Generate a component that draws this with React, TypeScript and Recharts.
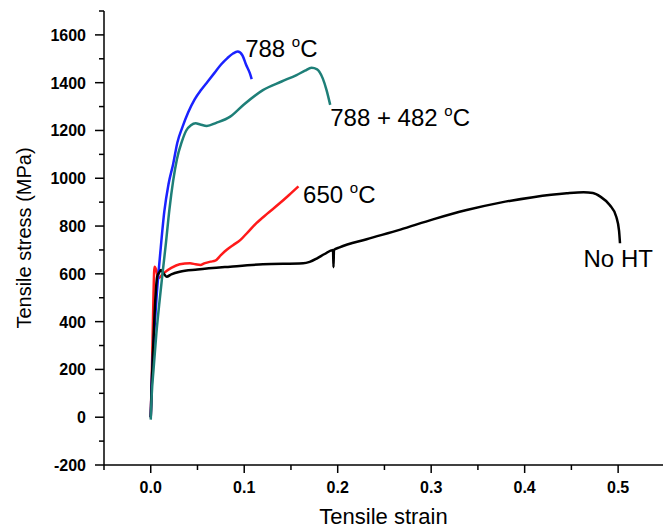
import React from 'react';
import { LineChart, Line, XAxis, YAxis, ReferenceDot, Label } from 'recharts';

// 788 °C (blue)
const strain788 = [0, 0.001, 0.003, 0.006, 0.0105, 0.0145, 0.019, 0.024, 0.0285, 0.034, 0.04, 0.047, 0.054, 0.061, 0.068, 0.075, 0.082, 0.088, 0.093, 0.098, 0.102, 0.106, 0.108];
const stress788 = [0, 140, 300, 490, 700, 860, 975, 1060, 1150, 1215, 1275, 1330, 1370, 1405, 1440, 1475, 1503, 1522, 1530, 1515, 1475, 1440, 1415];

// 788 + 482 °C (teal)
const strain788482 = [0, 0.001, 0.003, 0.006, 0.009, 0.012, 0.016, 0.02, 0.024, 0.028, 0.033, 0.038, 0.043, 0.048, 0.053, 0.06, 0.07, 0.085, 0.1, 0.12, 0.14, 0.156, 0.165, 0.172, 0.178, 0.184, 0.188, 0.192];
const stress788482 = [-10, 90, 200, 350, 470, 580, 720, 870, 990, 1080, 1150, 1200, 1222, 1230, 1225, 1219, 1232, 1258, 1310, 1369, 1405, 1432, 1450, 1462, 1456, 1418, 1370, 1307];

// 650 °C (red)
const strain650 = [0, 0.001, 0.002, 0.003, 0.004, 0.006, 0.008, 0.0135, 0.022, 0.031, 0.042, 0.048, 0.053, 0.058, 0.064, 0.069, 0.075, 0.081, 0.088, 0.096, 0.104, 0.113, 0.125, 0.137, 0.148, 0.158];
const stress650 = [0, 150, 330, 520, 630, 615, 582, 602, 625, 640, 644, 640, 637, 645, 651, 655, 678, 700, 720, 742, 775, 812, 853, 892, 930, 966];

// No HT (black)
const strainNoHT = [0, 0.001, 0.003, 0.005, 0.007, 0.009, 0.011, 0.014, 0.017, 0.022, 0.031, 0.05, 0.085, 0.12, 0.163, 0.17, 0.178, 0.186, 0.195, 0.1955, 0.196, 0.202, 0.231, 0.267, 0.302, 0.338, 0.374, 0.409, 0.445, 0.463, 0.473, 0.481, 0.491, 0.498, 0.501, 0.502];
const stressNoHT = [0, 130, 330, 500, 590, 605, 616, 600, 588, 598, 609, 618, 630, 640, 644, 650, 665, 683, 700, 628, 700, 711, 745, 785, 828, 867, 898, 921, 937, 941, 938, 923, 888, 839, 780, 728];

const xMajorTicks = [0, 0.1, 0.2, 0.3, 0.4, 0.5];
const xMinorTicks = [-0.05, 0.05, 0.15, 0.25, 0.35, 0.45];
const yMajorTicks = [-200, 0, 200, 400, 600, 800, 1000, 1200, 1400, 1600];
const yMinorTicks = [-100, 100, 300, 500, 700, 900, 1100, 1300, 1500, 1700];

const toPoints = (xs: number[], ys: number[]) => xs.map((x, i) => ({ x, y: ys[i] }));

const series = [
  { name: '650 °C', color: '#ff1a1a', data: toPoints(strain650, stress650) },
  { name: '788 °C', color: '#1a22ff', data: toPoints(strain788, stress788) },
  { name: 'No HT', color: '#000000', data: toPoints(strainNoHT, stressNoHT) },
  { name: '788 + 482 °C', color: '#1e7f78', data: toPoints(strain788482, stress788482) },
];

// text notes next to each curve (text start / baseline, in data units)
const notes = [
  { main: '788 ', sup: 'o', tail: 'C', x: 0.101, y: 1509 },
  { main: '788 + 482 ', sup: 'o', tail: 'C', x: 0.192, y: 1219 },
  { main: '650 ', sup: 'o', tail: 'C', x: 0.163, y: 895 },
  { main: 'No HT', sup: '', tail: '', x: 0.463, y: 630 },
];

const FONT = '"Liberation Sans", Arial, sans-serif';

const isIn = (list: number[], v: number) => list.some((m) => Math.abs(m - v) < 1e-6);

const XTick = (props: any) => {
  const { x, y, payload } = props;
  const major = isIn(xMajorTicks, payload.value);
  return (
    <g>
      <line x1={x} x2={x} y1={y} y2={y + (major ? 8 : 5)} stroke="#000" strokeWidth={1.5} />
      {major && (
        <text x={x} y={y + 28} textAnchor="middle" fontFamily={FONT} fontWeight="bold" fontSize={16} fill="#000">
          {payload.value.toFixed(1)}
        </text>
      )}
    </g>
  );
};

const YTick = (props: any) => {
  const { x, y, payload } = props;
  const major = isIn(yMajorTicks, payload.value);
  return (
    <g>
      <line x1={x - (major ? 9 : 5)} x2={x} y1={y} y2={y} stroke="#000" strokeWidth={1.5} />
      {major && (
        <text x={x - 18} y={y + 6} textAnchor="end" fontFamily={FONT} fontWeight="bold" fontSize={16} fill="#000">
          {payload.value}
        </text>
      )}
    </g>
  );
};

const noteLabel = (n: (typeof notes)[number]) => (props: any) => {
  const { viewBox } = props;
  const x = viewBox.x + 1;
  const y = viewBox.y + 1;
  return (
    <text x={x} y={y} fontFamily={FONT} fontSize={24} fill="#000">
      {n.main}
      {n.sup && (
        <tspan fontSize={15} dy={-10}>
          {n.sup}
        </tspan>
      )}
      {n.tail && <tspan dy={10}>{n.tail}</tspan>}
    </text>
  );
};

export default function App() {
  return (
    <div style={{ position: 'absolute', left: 0, top: 0, width: 663, height: 530, background: '#fff' }}>
      <LineChart width={663} height={530} margin={{ top: 11, right: 0, left: 0, bottom: 0 }}>
        <XAxis
          type="number"
          dataKey="x"
          domain={[-0.05, 0.548]}
          allowDataOverflow
          ticks={[...xMinorTicks, ...xMajorTicks].sort((a, b) => a - b)}
          interval={0}
          tick={<XTick />}
          tickLine={false}
          tickSize={0}
          tickMargin={0}
          height={65}
          axisLine={{ stroke: '#000', strokeWidth: 1.5 }}
        >
          <Label
            content={(p: any) => (
              <text
                x={p.viewBox.x + p.viewBox.width / 2}
                y={p.viewBox.y + 59}
                textAnchor="middle"
                fontFamily={FONT}
                fontSize={22}
                fill="#000"
              >
                Tensile strain
              </text>
            )}
          />
        </XAxis>
        <YAxis
          type="number"
          dataKey="y"
          domain={[-200, 1700]}
          allowDataOverflow
          ticks={[...yMinorTicks, ...yMajorTicks].sort((a, b) => a - b)}
          interval={0}
          tick={<YTick />}
          tickLine={false}
          tickSize={0}
          tickMargin={0}
          width={104}
          axisLine={{ stroke: '#000', strokeWidth: 1.5 }}
        >
          <Label
            content={(p: any) => {
              const cy = p.viewBox.y + p.viewBox.height / 2;
              return (
                <text
                  x={31}
                  y={cy}
                  transform={`rotate(-90 31 ${cy})`}
                  textAnchor="middle"
                  fontFamily={FONT}
                  fontSize={20}
                  fill="#000"
                >
                  Tensile stress (MPa)
                </text>
              );
            }}
          />
        </YAxis>
        {series.map((s) => (
          <Line
            key={s.name}
            name={s.name}
            data={s.data}
            dataKey="y"
            type="monotone"
            stroke={s.color}
            strokeWidth={2.5}
            dot={false}
            activeDot={false}
            isAnimationActive={false}
          />
        ))}
        {notes.map((n) => (
          <ReferenceDot
            key={n.main}
            x={n.x}
            y={n.y}
            r={1}
            fill="none"
            stroke="none"
            label={noteLabel(n)}
          />
        ))}
      </LineChart>
    </div>
  );
}
